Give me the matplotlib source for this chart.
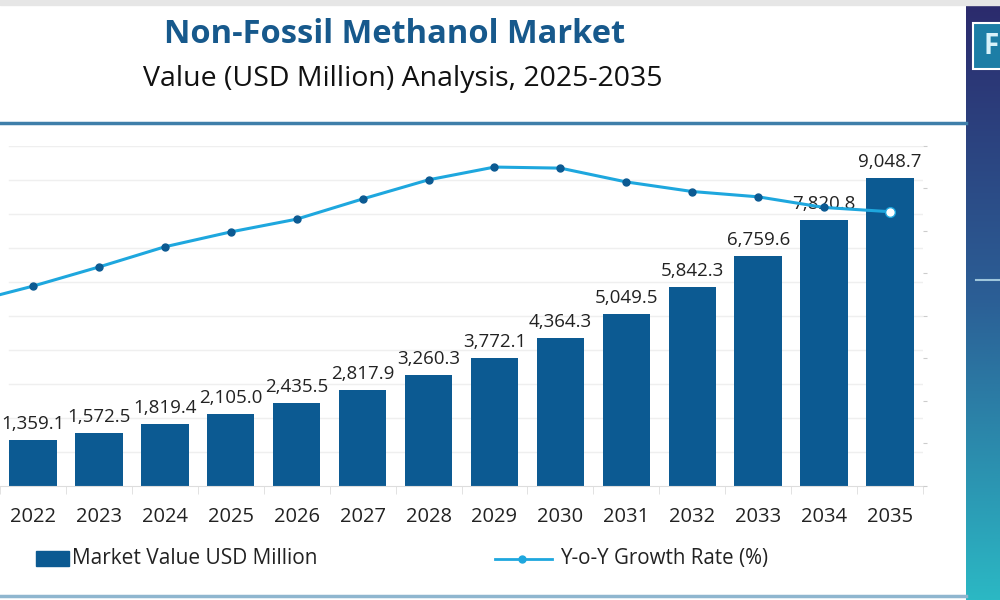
import matplotlib.pyplot as plt
import numpy as np
from matplotlib.patches import Rectangle
from matplotlib.lines import Line2D

# dados
anos = ['2022', '2023', '2024', '2025', '2026', '2027', '2028',
        '2029', '2030', '2031', '2032', '2033', '2034', '2035']
valores = [1359.1, 1572.5, 1819.4, 2105.0, 2435.5, 2817.9, 3260.3,
           3772.1, 4364.3, 5049.5, 5842.3, 6759.6, 7820.8, 9048.7]
# taxa de crescimento (escala estimada, o eixo nao tem rotulos); 2021 fica fora do corte
anos_taxa = ['2021'] + anos
taxa = [8.6, 9.4, 10.3, 11.25, 11.95, 12.55, 13.5, 14.4,
        15.0, 14.95, 14.3, 13.85, 13.6, 13.1, 12.9]

azul_barra = '#0c5a92'
azul_linha = '#1ea7de'
cinza_txt = '#222222'

plt.rcParams['font.family'] = ['Open Sans', 'DejaVu Sans']

fig = plt.figure(figsize=(10, 6), dpi=100)
fig.patch.set_facecolor('white')

# faixa cinza no topo
fig.patches.append(Rectangle((0, 0.992), 1, 0.008, transform=fig.transFigure,
                             color='#e6e6e6', zorder=0))

# titulo
fig.text(0.395, 0.943, 'Non-Fossil Methanol Market', ha='center', va='center',
         fontsize=23.5, fontweight='bold', color='#17598c')
fig.text(0.403, 0.868, 'Value (USD Million) Analysis, 2025-2035', ha='center',
         va='center', fontsize=20.5, color='#111111')

# linhas separadoras
fig.lines.append(Line2D([0, 0.966], [0.795, 0.795], transform=fig.transFigure,
                        color='#3f7faa', linewidth=2.5))
fig.lines.append(Line2D([0, 0.966], [0.006, 0.006], transform=fig.transFigure,
                        color='#8fb6cf', linewidth=2.5))

# painel lateral com degrade
ax_lado = fig.add_axes([0.966, 0, 0.034, 1])
grad = np.linspace(0, 1, 256).reshape(-1, 1)
cores = plt.matplotlib.colors.LinearSegmentedColormap.from_list(
    'lado', ['#2c2a6c', '#2b5f96', '#2bb8c4'])
ax_lado.imshow(grad, aspect='auto', cmap=cores, extent=[0, 1, 0, 1], origin='upper')
ax_lado.add_patch(Rectangle((0.2, 0.885), 0.9, 0.077, facecolor='#1d7ea6',
                            edgecolor='white', linewidth=1.5))
ax_lado.text(0.5, 0.923, 'F', color='#d8f2fa', fontsize=20, fontweight='bold',
             ha='left', va='center')
ax_lado.plot([0.3, 1.0], [0.533, 0.533], color='#9fc6dc', linewidth=1.5)
ax_lado.set_xlim(0, 1)
ax_lado.set_ylim(0, 1)
ax_lado.axis('off')

# grafico principal
ax = fig.add_axes([0.0, 0.19, 0.923, 0.567])
x = np.arange(len(anos))
for g in np.arange(1000, 10001, 1000):  # linhas de grade
    ax.axhline(g, xmin=0.01, color='#efefef', linewidth=1, zorder=0)
barras = ax.bar(x, valores, width=0.72, color=azul_barra, zorder=2,
                label='Market Value USD Million')
ax.bar_label(barras, labels=[f'{v:,.1f}' for v in valores], padding=5,
             fontsize=13.5, color=cinza_txt)

ax.set_xlim(-0.35, len(anos) - 0.5)
ax.set_ylim(0, 10000)
ax.set_xticks(x)
ax.set_xticklabels(anos, fontsize=14.5, color=cinza_txt)
ax.tick_params(axis='x', length=0, pad=15)
ax.set_xticks(np.arange(-0.5, len(anos), 1), minor=True)
ax.tick_params(axis='x', which='minor', length=6, color='#dddddd')
for lado in ['top', 'left', 'right']:
    ax.spines[lado].set_visible(False)
ax.spines['bottom'].set_color('#dddddd')

# linha de crescimento
ax2 = ax.twinx()
ax.set_yticks([])
x_taxa = np.arange(-1, len(anos))
ax2.plot(x_taxa, taxa, color=azul_linha, linewidth=2.2, zorder=3,
         label='Y-o-Y Growth Rate (%)')
ax2.plot(x_taxa[:-1], taxa[:-1], linestyle='none', marker='o', markersize=5,
         color=azul_barra, zorder=4)
ax2.plot(x_taxa[-1:], taxa[-1:], linestyle='none', marker='o', markersize=7,
         markerfacecolor='white', markeredgecolor=azul_linha, zorder=4)
ax2.set_ylim(0, 16)
ax2.set_yticks(np.arange(0, 17, 2))
ax2.tick_params(axis='y', length=3, color='#cccccc', labelright=False)
for lado in ['top', 'left', 'right', 'bottom']:
    ax2.spines[lado].set_visible(False)

# legendas
fig.patches.append(Rectangle((0.036, 0.057), 0.033, 0.024, transform=fig.transFigure,
                             color=azul_barra))
fig.text(0.072, 0.069, 'Market Value USD Million', fontsize=15, va='center',
         color=cinza_txt)
fig.lines.append(Line2D([0.495, 0.552], [0.069, 0.069], transform=fig.transFigure,
                        color=azul_linha, linewidth=2))
fig.lines.append(Line2D([0.522], [0.069], transform=fig.transFigure, marker='o',
                        markersize=5, color=azul_linha))
fig.text(0.56, 0.069, 'Y-o-Y Growth Rate (%)', fontsize=14.8, va='center',
         color=cinza_txt)

plt.savefig('out.png', dpi=100)
